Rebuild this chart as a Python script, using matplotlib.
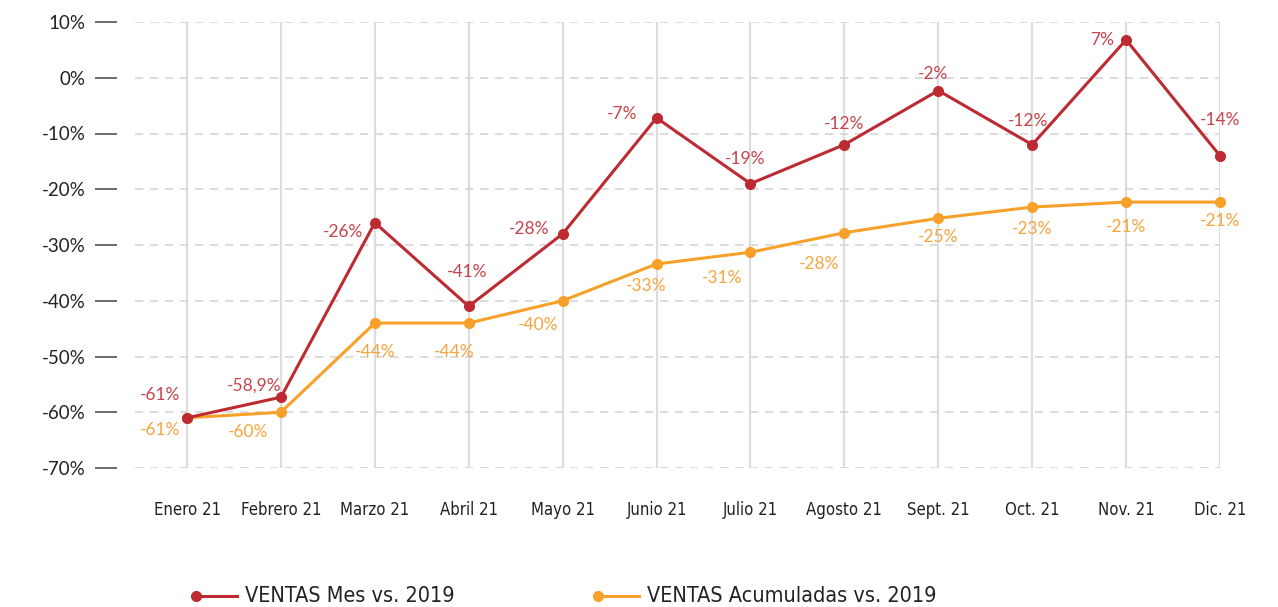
import numpy as np
import matplotlib.pyplot as plt
from matplotlib.lines import Line2D
from matplotlib import font_manager

plt.rcParams['font.family'] = ['Lato', 'DejaVu Sans']

months = ['Enero 21', 'Febrero 21', 'Marzo 21', 'Abril 21', 'Mayo 21', 'Junio 21',
          'Julio 21', 'Agosto 21', 'Sept. 21', 'Oct. 21', 'Nov. 21', 'Dic. 21']
mes = [-61, -57.3, -26, -41, -28, -7.2, -19, -12, -2.3, -12, 6.8, -14]
mes_labels = ['-61%', '-58,9%', '-26%', '-41%', '-28%', '-7%', '-19%', '-12%',
              '-2%', '-12%', '7%', '-14%']
acum = [-61, -60, -44, -44, -40, -33.4, -31.3, -27.8, -25.2, -23.2, -22.3, -22.3]
acum_labels = ['-61%', '-60%', '-44%', '-44%', '-40%', '-33%', '-31%', '-28%',
               '-25%', '-23%', '-21%', '-21%']
yticks = [10, 0, -10, -20, -30, -40, -50, -60, -70]

RED = '#BE2A32'
ORANGE = '#F7A12B'
RED_TXT = '#C8434A'
ORANGE_TXT = '#F6A53E'

# label offsets in pixels (dx, dy); dy positive = up
mes_off = [(-27, 23), (-27, 12), (-32, -9), (-2, 34), (-34, 5), (-34, 4),
           (-5, 25), (0, 21), (-5, 17), (-4, 24), (-24, 0), (0, 36)]
acum_off = [(-27, -12), (-33, -20), (0, -29), (-15, -29), (-25, -24), (-10, -22),
            (-28, -26), (-25, -31), (0, -19), (0, -22), (0, -25), (0, -19)]

W, H = 1278, 607
fig = plt.figure(figsize=(W / 100, H / 100), dpi=100)
ax = fig.add_axes([135 / W, (H - 468) / H, (1220 - 135) / W, (468 - 22) / H])

x = np.arange(len(months))
ax.set_xlim(-0.554, len(months) - 1)
ax.set_ylim(-70, 10)

for xi in x:
    ax.axvline(xi, color='#DDDDDD', lw=1.6, zorder=0)
for yv in yticks:
    ax.axhline(yv, color='#D6D6D6', lw=1.2, ls=(0, (5, 4)), zorder=0)

ax.plot(x, acum, color=ORANGE, lw=2.2, marker='o', ms=7, zorder=3, clip_on=False)
ax.plot(x, mes, color=RED, lw=2.2, marker='o', ms=7, zorder=4, clip_on=False)

for xi, v, t, (dx, dy) in zip(x, mes, mes_labels, mes_off):
    ax.annotate(t, (xi, v), xytext=(dx * 0.72, dy * 0.72), textcoords='offset points',
                ha='center', va='center', color=RED_TXT, fontsize=12.5)
for xi, v, t, (dx, dy) in zip(x, acum, acum_labels, acum_off):
    ax.annotate(t, (xi, v), xytext=(dx * 0.72, dy * 0.72), textcoords='offset points',
                ha='center', va='center', color=ORANGE_TXT, fontsize=12.5)

for s in ax.spines.values():
    s.set_visible(False)
ax.spines['left'].set_position(('outward', 18 * 0.72))
ax.set_yticks(yticks)
ax.set_yticklabels([f'{v}%' for v in yticks], fontsize=13.5, color='#222222')
ax.tick_params(axis='y', direction='out', length=22 * 0.72, width=1.1,
               color='#444444', pad=7)

narrow = font_manager.FontProperties(family='DejaVu Sans', stretch='condensed',
                                     size=12)
ax.set_xticks(x)
ax.set_xticklabels(months, color='#222222', fontproperties=narrow)
ax.tick_params(axis='x', length=0, pad=24)

# legend
ly = 1 - 596 / H
legend_font = font_manager.FontProperties(family='DejaVu Sans', stretch='condensed',
                                          size=15.5)
for x0, col, txt in [(196, RED, 'VENTAS Mes vs. 2019'),
                     (598, ORANGE, 'VENTAS Acumuladas vs. 2019')]:
    fig.add_artist(Line2D([x0 / W, (x0 + 41) / W], [ly, ly], color=col, lw=2.2))
    fig.add_artist(Line2D([x0 / W], [ly], color=col, marker='o', ms=7, lw=0))
    fig.text((x0 + 49) / W, ly, txt, va='center', ha='left',
             color='#222222', fontproperties=legend_font)

fig.savefig('out.png', dpi=100)
